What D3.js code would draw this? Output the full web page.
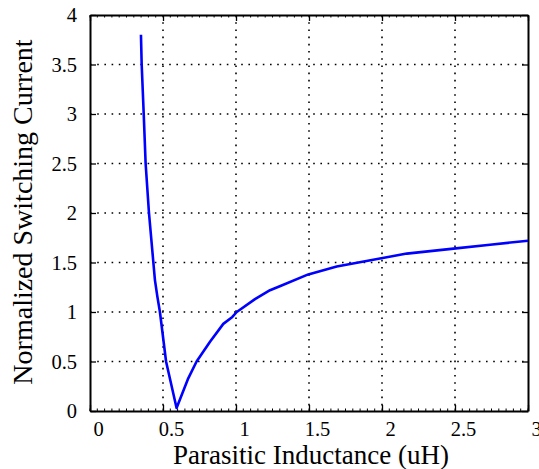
<!DOCTYPE html>
<html>
<head>
<meta charset="utf-8">
<script src="https://cdn.jsdelivr.net/npm/d3@7"></script>
<style>
  body { margin: 0; background: #fff; }
  svg { display: block; }
</style>
</head>
<body>
<div id="chart"></div>
<script>
// inductance (uH) and normalized switching current
var inductance = [0.349, 0.354, 0.368, 0.381, 0.404, 0.434, 0.445, 0.462, 0.479, 0.521, 0.593,
  0.673, 0.730, 0.822, 0.913, 0.975, 1.005, 1.13, 1.233, 1.30, 1.495, 1.69, 1.986,
  2.17, 2.49, 2.74, 3.0];
var current = [3.80, 3.50, 3.00, 2.50, 2.00, 1.50, 1.32, 1.15, 1.00, 0.50, 0.03,
  0.33, 0.50, 0.70, 0.88, 0.95, 1.00, 1.13, 1.22, 1.26, 1.38, 1.46, 1.54,
  1.59, 1.64, 1.68, 1.72];
var xTicks = [0, 0.5, 1, 1.5, 2, 2.5, 3];
var yTicks = [0, 0.5, 1, 1.5, 2, 2.5, 3, 3.5, 4];
var xTitle = 'Parasitic Inductance (uH)';
var yTitle = 'Normalized Switching Current';

var W = 539, H = 469;
var margin = {top: 15, right: 11, bottom: 58, left: 90};
var width = W - margin.left - margin.right,
    height = H - margin.top - margin.bottom;

var svg = d3.select('#chart').append('svg')
  .attr('width', W)
  .attr('height', H);

var g = svg.append('g')
  .attr('transform', 'translate(' + margin.left + ',' + margin.top + ')');

var x = d3.scaleLinear().domain([0, 3]).range([0, width]);
var y = d3.scaleLinear().domain([0, 4]).range([height, 0]);

// dotted grid
g.selectAll('.vgrid')
  .data(xTicks.slice(1, -1))
  .enter().append('line')
  .attr('x1', function(d) { return x(d); })
  .attr('x2', function(d) { return x(d); })
  .attr('y1', 0).attr('y2', height)
  .attr('stroke', '#000').attr('stroke-width', 1.6)
  .attr('stroke-dasharray', '1.6,5.6');

g.selectAll('.hgrid')
  .data(yTicks.slice(1, -1))
  .enter().append('line')
  .attr('y1', function(d) { return y(d); })
  .attr('y2', function(d) { return y(d); })
  .attr('x1', 0).attr('x2', width)
  .attr('stroke', '#000').attr('stroke-width', 1.6)
  .attr('stroke-dasharray', '1.6,5.6');

// minor ticks along top and bottom
var minor = d3.range(0, 3.0001, 0.05);
g.selectAll('.minb')
  .data(minor)
  .enter().append('line')
  .attr('x1', function(d) { return x(d); })
  .attr('x2', function(d) { return x(d); })
  .attr('y1', height).attr('y2', height - 2.5)
  .attr('stroke', '#000').attr('stroke-width', 1);
g.selectAll('.mint')
  .data(minor)
  .enter().append('line')
  .attr('x1', function(d) { return x(d); })
  .attr('x2', function(d) { return x(d); })
  .attr('y1', 0).attr('y2', 2.5)
  .attr('stroke', '#000').attr('stroke-width', 1);

// axes (ticks inward)
var xAxis = g.append('g')
  .attr('transform', 'translate(0,' + height + ')')
  .call(d3.axisBottom(x).tickValues(xTicks).tickSizeInner(-6).tickSizeOuter(0)
    .tickFormat(d3.format('')));
xAxis.selectAll('text')
  .attr('y', 10).attr('dx', 8);

var yAxis = g.append('g')
  .call(d3.axisLeft(y).tickValues(yTicks).tickSizeInner(-6).tickSizeOuter(0)
    .tickFormat(d3.format('')));
yAxis.selectAll('text')
  .attr('x', -13);

g.append('g')
  .call(d3.axisTop(x).tickValues(xTicks).tickSizeInner(-6).tickSizeOuter(0).tickFormat(''));
g.append('g')
  .attr('transform', 'translate(' + width + ',0)')
  .call(d3.axisRight(y).tickValues(yTicks).tickSizeInner(-6).tickSizeOuter(0).tickFormat(''));

// drop the sans-serif default that d3 puts on the axis groups
g.selectAll('g').attr('font-family', null).attr('font-size', null);

g.selectAll('.domain').attr('stroke', '#000').attr('stroke-width', 2);
g.selectAll('.tick line').attr('stroke', '#000').attr('stroke-width', 1.3);
g.selectAll('.tick text')
  .attr('fill', '#000')
  .attr('style', "font-family:'Liberation Serif'; font-size:20.5px");

// the curve
var line = d3.line()
  .x(function(d, i) { return x(inductance[i]); })
  .y(function(d) { return y(d); });

g.append('path')
  .datum(current)
  .attr('d', line)
  .attr('fill', 'none')
  .attr('stroke', '#0000ff')
  .attr('stroke-width', 2.6)
  .attr('stroke-linejoin', 'round');

// titles
svg.append('text')
  .attr('x', 311)
  .attr('y', 464)
  .attr('text-anchor', 'middle')
  .attr('style', "font-family:'Liberation Serif'; font-size:27px")
  .text(xTitle);

svg.append('text')
  .attr('transform', 'translate(32,212) rotate(-90)')
  .attr('text-anchor', 'middle')
  .attr('style', "font-family:'Liberation Serif'; font-size:28px")
  .text(yTitle);
</script>
</body>
</html>
